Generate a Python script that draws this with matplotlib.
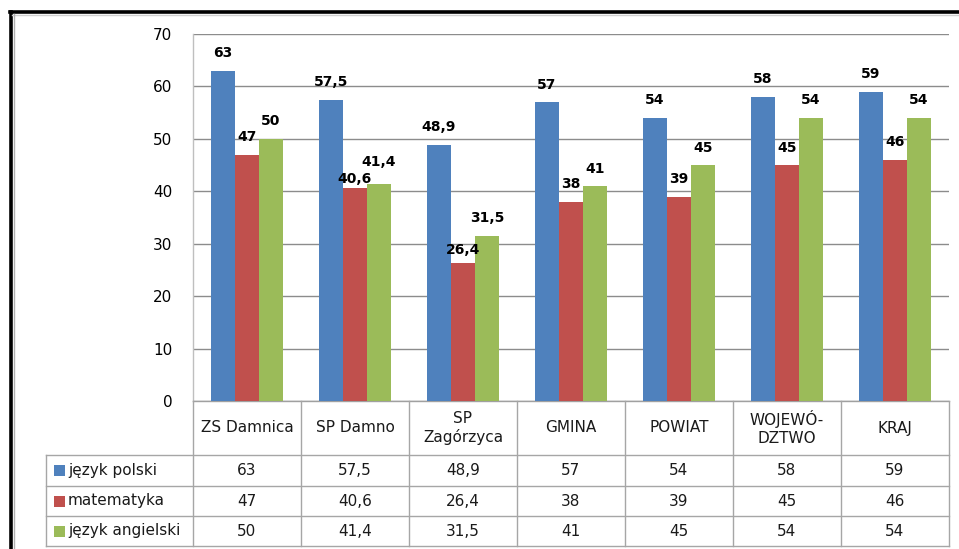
import matplotlib
matplotlib.use("Agg")
import matplotlib.pyplot as plt
from matplotlib.lines import Line2D
from matplotlib.patches import Rectangle

plt.rcParams['font.family'] = ['DejaVu Sans']

categories = ["ZS Damnica", "SP Damno", "SP\nZagórzyca", "GMINA", "POWIAT", "WOJEWÓ-\nDZTWO", "KRAJ"]
series_names = ["język polski", "matematyka", "język angielski"]
polski = [63, 57.5, 48.9, 57, 54, 58, 59]
matematyka = [47, 40.6, 26.4, 38, 39, 45, 46]
angielski = [50, 41.4, 31.5, 41, 45, 54, 54]
series = [polski, matematyka, angielski]
colors = ["#4F81BD", "#C0504D", "#9BBB59"]
yticks = [0, 10, 20, 30, 40, 50, 60, 70]

W, H = 959, 549
fig = plt.figure(figsize=(W / 100, H / 100), dpi=100)

def fx(px):
    return px / W

def fy(py):
    return 1 - py / H

# label offsets in points (style: manual nudges as in the original)
base_off = 7.5
label_nudge = {(1, 1): -6.0, (1, 2): 3.0, (2, 1): -3.5}

# main plot area
pl, pr, pt, pb = 193, 949, 34, 401
ax = fig.add_axes([fx(pl), fy(pb), fx(pr - pl), (pb - pt) / H])
n = len(categories)
bw = 2 / 9.0
grid_c = "#8c8c8c"
for i, (vals, c) in enumerate(zip(series, colors)):
    xs = [k + (i - 1) * bw for k in range(n)]
    ax.bar(xs, vals, width=bw, color=c, zorder=3, linewidth=0)
    for k, (x, v) in enumerate(zip(xs, vals)):
        lab = ("%g" % v).replace(".", ",")
        off = base_off + label_nudge.get((k, i), 0)
        ax.annotate(lab, (x, v), xytext=(0, off), textcoords="offset points",
                    ha="center", va="bottom", fontsize=10, fontweight="bold",
                    color="black", zorder=4)
ax.set_xlim(-0.5, n - 0.5)
ax.set_ylim(0, 70)
ax.set_yticks(yticks)
ax.set_yticklabels([str(t) for t in yticks], fontsize=11)
ax.set_xticks([])
ax.tick_params(axis="y", length=0, pad=15)
ax.yaxis.grid(True, color=grid_c, linewidth=1.0, zorder=0)
ax.spines["left"].set_color("#bfbfbf")
ax.spines["left"].set_linewidth(1.0)
ax.spines["bottom"].set_color("#a0a0a0")
ax.spines["bottom"].set_linewidth(1.0)
ax.spines["top"].set_visible(False)
ax.spines["right"].set_visible(False)

# data table
tl, tr, tt, tb = 46, 949, 401, 546
row_y = [401, 455, 486, 516, 546]
tax = fig.add_axes([fx(tl), fy(tb), fx(tr - tl), (tb - tt) / H])
x_left = -0.5 - (pl - tl) / 108.0
tax.set_xlim(x_left, n - 0.5)
tax.set_ylim(tb, tt)
tax.axis("off")
lc = "#a6a6a6"
for j, y in enumerate(row_y):
    if j == 0:
        continue
    tax.plot([x_left, n - 0.5], [y, y], color=lc, linewidth=1.0, clip_on=False)
for k in range(n + 1):
    tax.plot([k - 0.5, k - 0.5], [row_y[0], row_y[-1]], color=lc, linewidth=1.0, clip_on=False)
tax.plot([x_left, x_left], [row_y[1], row_y[-1]], color=lc, linewidth=1.0, clip_on=False)

for k, cat in enumerate(categories):
    tax.text(k, (row_y[0] + row_y[1]) / 2, cat, ha="center", va="center",
             fontsize=11, linespacing=1.3, color="#1a1a1a")
for r, (name, vals, c) in enumerate(zip(series_names, series, colors)):
    yc = (row_y[r + 1] + row_y[r + 2]) / 2
    for k, v in enumerate(vals):
        tax.text(k, yc, ("%g" % v).replace(".", ","), ha="center", va="center",
                 fontsize=11, color="#1a1a1a")
    kx = x_left + 8 / 108.0
    tax.add_patch(Rectangle((kx, yc - 5.5), 11 / 108.0, 11, facecolor=c,
                            edgecolor="none", clip_on=False))
    tax.text(x_left + 22 / 108.0, yc, name, ha="left", va="center",
             fontsize=11, color="#1a1a1a")

# outer frame
fig.add_artist(Line2D([fx(10.5), fx(10.5)], [fy(12), 0], color="black", linewidth=2.6))
fig.add_artist(Line2D([fx(10), 1], [fy(12), fy(12)], color="black", linewidth=2.6))
fig.add_artist(Line2D([fx(12), 1], [fy(14.5), fy(14.5)], color="#d0d0d0", linewidth=1.0))
fig.add_artist(Line2D([fx(13.5), fx(13.5)], [fy(14), 0], color="#b0b0b0", linewidth=1.0))

fig.savefig("out.png", dpi=100)
